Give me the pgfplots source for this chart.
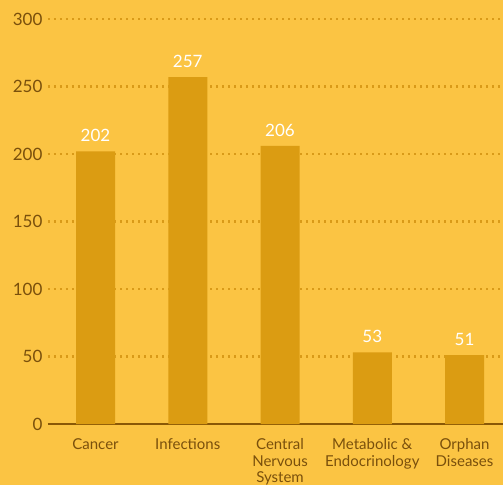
\documentclass[border=0pt]{standalone}
\usepackage{pgfplots}
\pgfplotsset{compat=1.18}
\usepackage{fontspec}
\setmainfont{Lato}
\definecolor{bg}{HTML}{FBC443}
\definecolor{barc}{HTML}{DB9C12}
\definecolor{axc}{HTML}{8A5806}
\definecolor{txt}{HTML}{7A500C}
\definecolor{gridc}{HTML}{D99A18}
\begin{document}
\begin{tikzpicture}[x=1pt,y=1pt]
\useasboundingbox (0,0) rectangle (503,485);
\fill[bg] (0,0) rectangle (503,485);
\begin{axis}[
  at={(48pt,61pt)}, anchor=south west,
  scale only axis, width=455pt, height=405pt,
  xmin=-0.515, xmax=4.417, ymin=0, ymax=300,
  ybar, bar width=39pt,
  xtick={0,1,2,3,4},
  xticklabels={Cancer,Infections,Central\\Nervous\\System,Metabolic \&\\Endocrinology,Orphan\\Diseases},
  xticklabel style={align=center, font=\fontsize{15}{16.5}\selectfont, text=txt, anchor=north, yshift=-11pt},
  ytick={0,50,100,150,200,250,300},
  yticklabel style={font=\fontsize{17}{19}\selectfont, text=txt, anchor=east, xshift=-2pt},
  /pgf/number format/assume math mode=true,
  major tick length=0pt,
  axis x line=bottom, axis y line=left,
  x axis line style={-, draw=axc, line width=2.8pt},
  y axis line style={draw=none},
  ymajorgrids, grid style={gridc, line width=2.2pt, dash pattern=on 2pt off 4pt},
  clip=false,
  nodes near coords,
  every node near coord/.append style={font=\fontsize{17}{19}\selectfont, text=white, yshift=6pt},
]
\addplot[fill=barc, draw=none] coordinates {(0,202) (1,257) (2,206) (3,53) (4,51)};
\end{axis}
\end{tikzpicture}
\end{document}
